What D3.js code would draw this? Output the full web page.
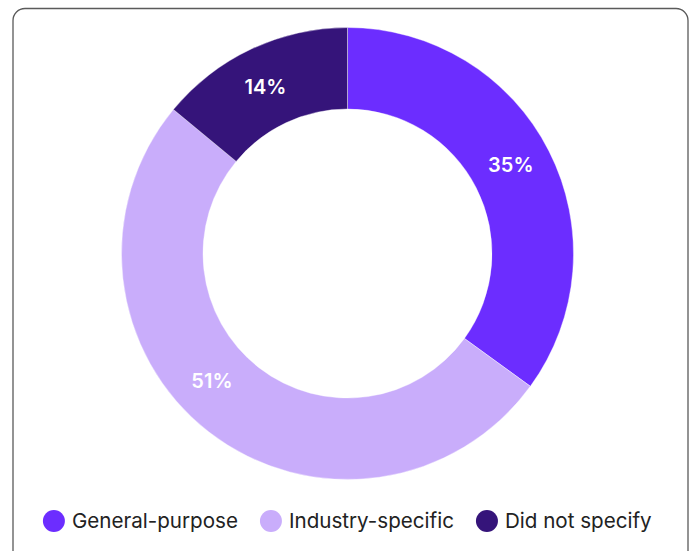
<!DOCTYPE html>
<html>
<head>
<meta charset="utf-8">
<script src="https://cdn.jsdelivr.net/npm/d3@7"></script>
<style>
  html, body { margin: 0; padding: 0; background: #ffffff; }
  svg { display: block; }
</style>
</head>
<body>
<svg id="chart" width="693" height="551"></svg>
<script>
// Share of responses by model type
const categories = ["General-purpose", "Industry-specific", "Did not specify"];
const shares = [35, 51, 14];
const colors = ["#6c2dff", "#c9adfb", "#35147a"];

const W = 693, H = 551;
const cx = 347.5, cy = 253.5;
const outerR = 226, innerR = 144.5;

const svg = d3.select("#chart");

// Card frame
svg.append("rect")
  .attr("x", 13).attr("y", 8.5)
  .attr("width", 675).attr("height", 560)
  .attr("rx", 12).attr("ry", 12)
  .attr("fill", "#ffffff")
  .attr("stroke", "#5a5a5a")
  .attr("stroke-width", 1.3);

const data = categories.map((c, i) => ({ name: c, value: shares[i], color: colors[i] }));

const pie = d3.pie().value(d => d.value).sort(null);
const arc = d3.arc().innerRadius(innerR).outerRadius(outerR);
const arcs = pie(data);

const g = svg.append("g").attr("transform", `translate(${cx},${cy})`);

g.selectAll("path.slice")
  .data(arcs)
  .join("path")
  .attr("class", "slice")
  .attr("d", arc)
  .attr("fill", d => d.data.color)
  .attr("stroke", "#ffffff")
  .attr("stroke-width", 0.4);

// Percentage labels inside the ring, nudged along their arcs (degrees)
const labelArc = d3.arc().innerRadius(186).outerRadius(186);
const labelShift = { "General-purpose": -1.6, "Industry-specific": 9, "Did not specify": -1 };
g.selectAll("text.pct")
  .data(arcs)
  .join("text")
  .attr("class", "pct")
  .attr("transform", d => {
    const s = (labelShift[d.data.name] || 0) * Math.PI / 180;
    const [x, y] = labelArc.centroid({ startAngle: d.startAngle + s, endAngle: d.endAngle + s });
    return `translate(${x},${y})`;
  })
  .attr("text-anchor", "middle")
  .attr("dy", "0.36em")
  .attr("fill", "#ffffff")
  .attr("font-family", "Inter, 'Noto Sans', sans-serif")
  .attr("font-weight", 600)
  .attr("font-size", 20)
  .text(d => d.data.value + "%");

// Legend, centred under the ring
const legend = svg.append("g");
const items = legend.selectAll("g.item")
  .data(data)
  .join("g")
  .attr("class", "item");

items.append("circle")
  .attr("r", 11)
  .attr("cx", 11)
  .attr("cy", 0)
  .attr("fill", d => d.color);

items.append("text")
  .attr("x", 29)
  .attr("y", 0)
  .attr("dy", "0.35em")
  .attr("fill", "#222222")
  .attr("font-family", "Inter, 'Noto Sans', sans-serif")
  .attr("font-size", 20.6)
  .text(d => d.name);

const gap = 22;
let xPos = 0;
items.each(function () {
  const w = this.getBBox().width;
  d3.select(this).attr("transform", `translate(${xPos},0)`);
  xPos += w + gap;
});
const total = xPos - gap;
legend.attr("transform", `translate(${cx - total / 2},521)`);
</script>
</body>
</html>
